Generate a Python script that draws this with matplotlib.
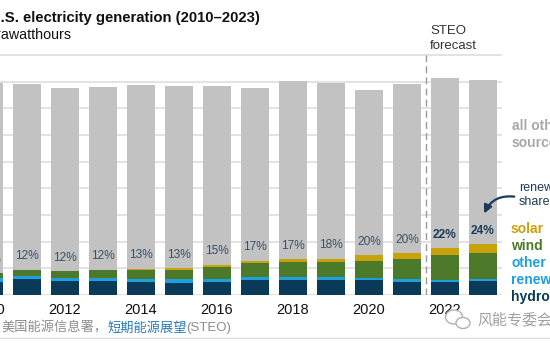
import matplotlib
matplotlib.use("Agg")
import matplotlib.pyplot as plt
from matplotlib.lines import Line2D
from matplotlib.patches import Ellipse

plt.rcParams['font.family'] = ['Liberation Sans', 'Noto Sans CJK SC', 'DejaVu Sans']

# values (one gridline = 500)
years = list(range(2010, 2024))
hydro = [250, 300, 268, 257, 244, 231, 250, 281, 281, 281, 281, 250, 244, 262]
other_ren = [66, 56, 56, 56, 62, 62, 56, 50, 56, 62, 43, 45, 38, 38]
wind = [90, 112, 120, 156, 170, 181, 225, 262, 281, 270, 319, 375, 469, 481]
solar = [2, 3, 6, 9, 15, 31, 37, 50, 50, 68, 100, 112, 125, 175]
total = [3975, 3956, 3881, 3900, 3938, 3919, 3919, 3881, 4013, 3975, 3844, 3956, 4069, 4031]
share_labels = ['10%', '12%', '12%', '12%', '13%', '13%', '15%', '17%',
                '17%', '18%', '20%', '20%', '22%', '24%']
forecast_years = [2022, 2023]

c_hydro = '#0a3a57'
c_other = '#1ea0de'
c_wind = '#4c7a2a'
c_solar = '#c9a10a'
c_grey = '#c2c2c2'

W, H = 550, 350
fig = plt.figure(figsize=(5.5, 3.5), dpi=100)

def fx(x):
    return x / W

def fy(y):
    return 1 - y / H

# axes placed in pixel terms: baseline at y=295, right edge at x=502,
# left edge hangs 40px off the picture (the reference is cropped there)
left_px = -40
ax = fig.add_axes([fx(left_px), fy(295), fx(502 - left_px), (295 - 50) / H])
per_year = 38.0
x0 = 2010 + (11 + left_px) / per_year

bw = 28 / per_year
b = [0] * len(years)
for vals, col in [(hydro, c_hydro), (other_ren, c_other), (wind, c_wind), (solar, c_solar)]:
    ax.bar(years, vals, bw, bottom=b, color=col, zorder=2)
    b = [p + q for p, q in zip(b, vals)]
rest = [t - r for t, r in zip(total, b)]
ax.bar(years, rest, bw, bottom=b, color=c_grey, zorder=2)

for yr, top, lab in zip(years, b, share_labels):
    if yr in forecast_years:
        ax.annotate(lab, (yr, top), xytext=(0, 9.7), textcoords='offset points',
                    ha='center', va='center', fontsize=8.6, fontweight='bold',
                    color='#1d3b58', zorder=3)
    else:
        ax.annotate(lab, (yr, top), xytext=(0, 9.7), textcoords='offset points',
                    ha='center', va='center', fontsize=8.6, color='#3a5068', zorder=3)

ax.set_yticks(range(0, 4600, 500))
ax.yaxis.grid(True, color='#dedede', lw=1.2)
ax.set_axisbelow(True)
ax.tick_params(axis='y', left=False, labelleft=False)
ax.set_xticks(years[::2])
ax.set_xticklabels([str(y) for y in years[::2]], fontsize=10.5, color='#111111')
ax.tick_params(axis='x', length=0, pad=6)
for s in ax.spines.values():
    s.set_visible(False)
ax.set_xlim(x0, x0 + (502 - left_px) / per_year)
ax.set_ylim(0, 245 * 500 / 26.67)

# forecast divider
ax.plot([2021.5, 2021.5], [0, 4500], color='#9a9a9a', lw=1, dashes=(5, 3), zorder=1)
fig.text(fx(430), fy(31), 'STEO', fontsize=9.5, color='#333333', va='center')
fig.text(fx(430), fy(46), 'forecast', fontsize=9.5, color='#333333', va='center')

# title
fig.text(fx(-10), fy(18), 'U.S. electricity generation (2010\u20132023)', fontsize=10.7,
         fontweight='bold', color='#111111', va='center')
fig.text(fx(-15), fy(35), 'terawatthours', fontsize=10.3, color='#111111', va='center')

# right side labels
fig.text(fx(512), fy(126), 'all other', fontsize=10, fontweight='bold', color='#a8a8a8', va='center')
fig.text(fx(512), fy(143), 'sources', fontsize=10, fontweight='bold', color='#a8a8a8', va='center')
fig.text(fx(519), fy(188), 'renewables', fontsize=9, color='#1d3b58', va='center')
fig.text(fx(519), fy(202), 'share', fontsize=9, color='#1d3b58', va='center')
fig.add_artist(plt.Annotation('', xy=(fx(483), fy(216)), xytext=(fx(517), fy(197)),
                              xycoords='figure fraction',
                              arrowprops=dict(arrowstyle='-|>', connectionstyle='arc3,rad=0.4',
                                              color='#1d3b58', lw=1.6, mutation_scale=12)))
for lab, col, yy in [('solar', c_solar, 229), ('wind', c_wind, 246), ('other', c_other, 263),
                     ('renewables', c_other, 280), ('hydro', c_hydro, 297)]:
    fig.text(fx(511), fy(yy), lab, fontsize=10, fontweight='bold', color=col, va='center')

# source line
fig.canvas.draw()
r = fig.canvas.get_renderer()
xpos = 1
for txt, col, st in [('美国能源信息署，', '#8c8c8c', 'normal'),
                     ('短期能源展望', '#2b7bba', 'italic'),
                     ('(STEO)', '#8c8c8c', 'normal')]:
    t = fig.text(fx(xpos), fy(328), txt, fontsize=9.5, color=col, style=st, va='center')
    xpos += t.get_window_extent(r).width

fig.add_artist(Line2D([0, 1], [fy(338), fy(338)], color='#dcdcdc', lw=1))

# watermark
fig.add_artist(Ellipse((fx(454), fy(317)), fx(17), 14 / H, fill=True, fc='white',
                       ec='#b0b0b0', lw=1))
fig.add_artist(Ellipse((fx(463), fy(323)), fx(14), 11 / H, fill=True, fc='white',
                       ec='#b0b0b0', lw=1))
fig.text(fx(477), fy(320), '风能专委会', fontsize=10.8, color='#a0a0a0', va='center')

fig.savefig('out.png', dpi=100)
